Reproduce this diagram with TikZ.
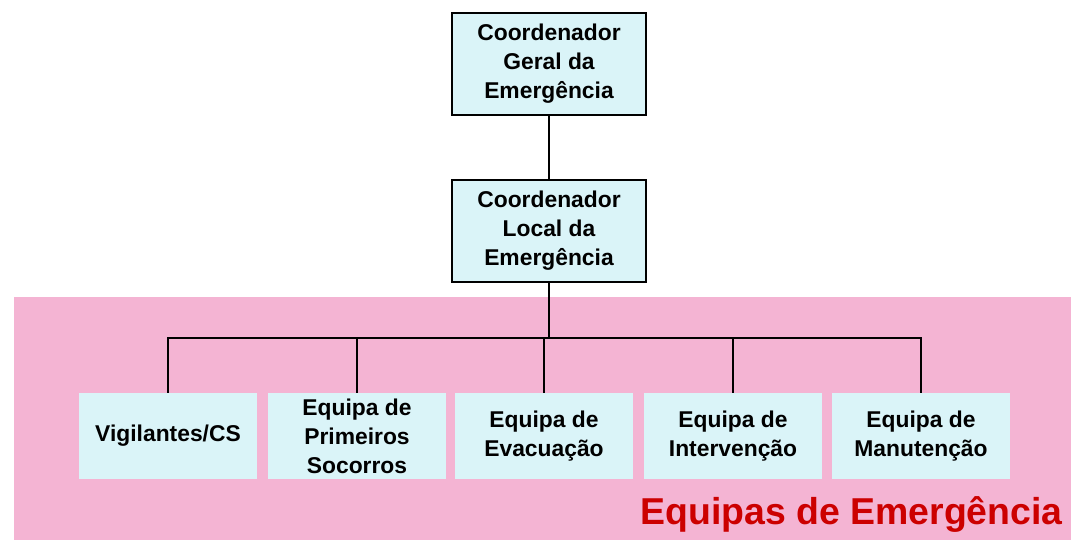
\documentclass[tikz,border=0pt]{standalone}
\usepackage{fontspec}
\setmainfont{Liberation Sans}
\usetikzlibrary{positioning}

\definecolor{pinkbg}{HTML}{F4B4D3}
\definecolor{boxfill}{HTML}{DAF4F8}
\definecolor{titlered}{HTML}{CC0000}

\begin{document}
\begin{tikzpicture}[x=0.02cm, y=-0.02cm,
	coord/.style = {draw, line width=1.1pt, fill=boxfill, align=center, font=\bfseries\fontsize{13}{16.5}\selectfont, minimum width=3.88cm, minimum height=2.04cm, inner sep=0pt},
	team/.style = {fill=boxfill, align=center, font=\bfseries\fontsize{13}{16.5}\selectfont, minimum width=3.56cm, minimum height=1.72cm, inner sep=0pt},
	link/.style = {line width=1.1pt}]
	\useasboundingbox (0,0) rectangle (1071,540);
	\fill[white] (0,0) rectangle (1071,540);
	\fill[pinkbg] (14,297) rectangle (1071,540);
	% coordenadores
	\node[coord] (geral) at (549,64) {Coordenador\\Geral da\\Emergência};
	\node[coord] (local) at (549,231) {Coordenador\\Local da\\Emergência};
	% equipas
	\node[team] (vig) at (168,436) {Vigilantes/CS};
	\node[team] (socorros) at (357,436) {Equipa de\\Primeiros\\Socorros};
	\node[team] (evac) at (544,436) {Equipa de\\Evacuação};
	\node[team] (interv) at (733,436) {Equipa de\\Intervenção};
	\node[team] (manut) at (921,436) {Equipa de\\Manutenção};
	\coordinate (bus) at (549,338);
	\draw[link] (geral) -- (local);
	\draw[link] (local) -- (bus);
	\foreach \n in {vig, socorros, evac, interv, manut}
		\draw[link] (\n.north) |- (bus);
	\node[anchor=south east, text=titlered, font=\bfseries\fontsize{21.3}{25}\selectfont, inner sep=0pt] (titulo) at (1063,533) {Equipas de Emergência};
\end{tikzpicture}
\end{document}
